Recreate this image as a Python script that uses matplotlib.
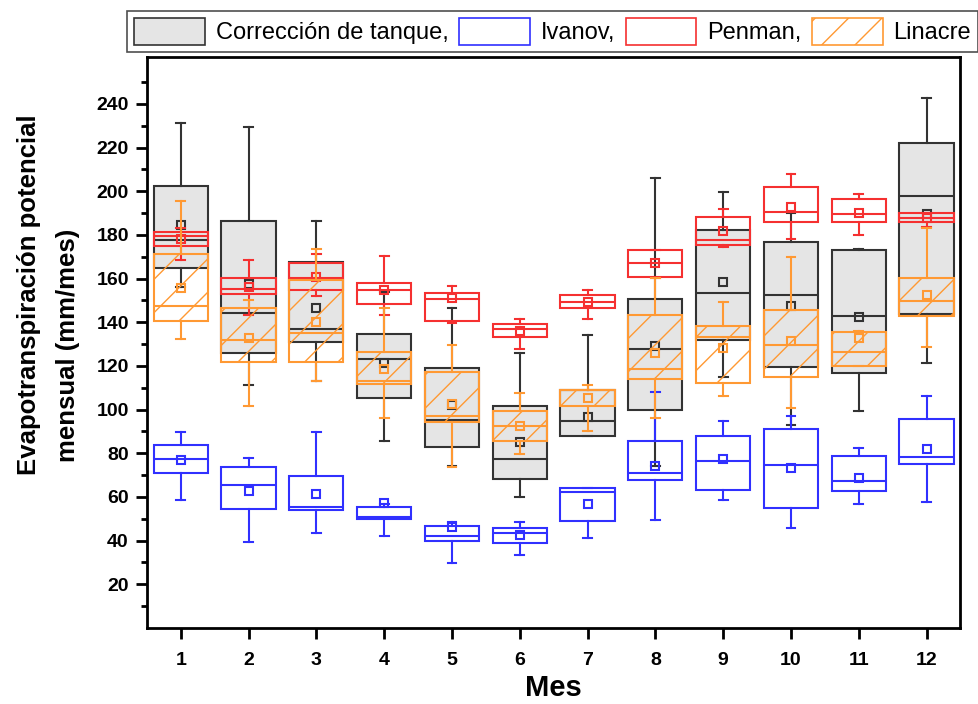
import matplotlib
matplotlib.use("Agg")
import matplotlib.pyplot as plt
from matplotlib.patches import Patch
from matplotlib.ticker import FixedLocator

# Monthly potential evapotranspiration (mm/mes), box summaries per method
meses = [1, 2, 3, 4, 5, 6, 7, 8, 9, 10, 11, 12]

# Corrección de tanque
tanque_lo   = [156.0, 111.5, 112.9, 85.5, 74.0, 60.2, 87.8, 74.3, 114.9, 93.0, 99.4, 121.3]
tanque_q1   = [164.7, 125.9, 131.0, 105.2, 83.0, 68.2, 87.8, 100.0, 131.7, 119.5, 116.7, 143.7]
tanque_med  = [177.7, 144.4, 136.8, 123.0, 95.4, 77.4, 94.7, 127.6, 153.6, 152.4, 142.8, 198.0]
tanque_q3   = [202.6, 186.4, 167.4, 134.5, 119.0, 101.6, 108.8, 150.7, 182.3, 176.8, 173.1, 222.1]
tanque_hi   = [231.3, 229.6, 186.4, 153.9, 146.7, 125.9, 134.0, 206.0, 199.6, 189.9, 173.5, 242.8]
tanque_mean = [184.6, 157.5, 146.6, 121.5, 102.2, 85.0, 96.4, 129.1, 158.5, 147.5, 142.5, 189.6]

# Ivanov
ivanov_lo   = [58.5, 39.5, 43.7, 42.1, 29.6, 33.4, 41.1, 49.3, 58.5, 45.8, 56.7, 57.5]
ivanov_q1   = [70.9, 54.4, 54.0, 49.8, 39.8, 38.8, 49.0, 67.7, 63.2, 54.9, 62.8, 75.2]
ivanov_med  = [77.4, 65.6, 55.2, 51.0, 42.1, 43.7, 62.3, 70.8, 76.3, 74.8, 67.1, 78.1]
ivanov_q3   = [83.8, 73.5, 69.4, 55.5, 46.7, 46.0, 64.3, 85.5, 87.8, 91.3, 78.6, 95.9]
ivanov_hi   = [89.6, 77.7, 89.6, 57.0, 48.6, 48.6, 64.3, 108.0, 94.8, 97.0, 82.3, 106.2]
ivanov_mean = [76.9, 62.8, 61.3, 57.2, 46.4, 42.5, 56.7, 74.3, 77.4, 73.1, 68.6, 82.0]

# Penman
penman_lo   = [168.5, 143.2, 151.9, 143.2, 139.7, 127.6, 141.4, 160.5, 174.6, 178.1, 180.1, 183.5]
penman_q1   = [174.8, 152.9, 154.7, 148.3, 140.8, 133.3, 146.6, 160.8, 175.4, 185.8, 185.9, 185.8]
penman_med  = [179.5, 155.2, 160.4, 154.7, 150.9, 137.0, 149.3, 167.0, 177.7, 190.7, 189.6, 187.6]
penman_q3   = [181.5, 160.5, 167.0, 158.1, 153.6, 139.2, 152.4, 173.1, 188.1, 201.9, 196.4, 189.9]
penman_hi   = [183.0, 168.6, 171.5, 170.2, 156.4, 141.5, 154.7, 173.1, 191.8, 208.1, 198.7, 189.9]
penman_mean = [178.3, 156.2, 160.7, 154.7, 151.2, 135.8, 149.3, 167.0, 181.8, 193.0, 190.2, 187.9]

# Linacre
linacre_lo   = [132.2, 101.6, 112.9, 96.0, 73.8, 79.7, 90.4, 96.0, 106.2, 100.8, 120.0, 128.7]
linacre_q1   = [140.8, 121.8, 121.8, 111.7, 94.2, 85.5, 101.6, 114.2, 112.1, 114.9, 120.1, 142.8]
linacre_med  = [147.4, 131.7, 135.3, 113.3, 97.0, 92.7, 108.8, 118.4, 133.3, 129.4, 126.4, 149.8]
linacre_q3   = [171.5, 146.7, 159.3, 126.4, 117.2, 99.6, 109.2, 143.2, 138.2, 145.5, 135.7, 160.5]
linacre_hi   = [195.6, 150.0, 173.5, 146.7, 129.4, 107.5, 111.1, 160.1, 149.3, 169.7, 136.0, 183.0]
linacre_mean = [155.8, 132.8, 140.2, 118.7, 102.6, 92.7, 105.3, 125.9, 128.4, 131.4, 132.8, 152.7]

gris_borde = "#333333"
gris_relleno = "#e5e5e5"
azul = "#3030ff"
rojo = "#f53030"
naranja = "#ff9933"

plt.rcParams["font.family"] = ["Liberation Sans", "DejaVu Sans"]
plt.rcParams["hatch.linewidth"] = 1.0


def resumen(lo, q1, med, q3, hi, mean):
    return [dict(whislo=a, q1=b, med=c, q3=d, whishi=e, mean=f, fliers=[])
            for a, b, c, d, e, f in zip(lo, q1, med, q3, hi, mean)]


def dibujar(ax, stats, color, fill, hatch, z):
    lw = 1.5
    ax.bxp(stats, positions=meses, widths=0.8, capwidths=0.13,
           patch_artist=True, showmeans=True, showfliers=False,
           boxprops=dict(facecolor=fill, edgecolor=color, linewidth=lw, hatch=hatch),
           medianprops=dict(color=color, linewidth=lw),
           whiskerprops=dict(color=color, linewidth=lw),
           capprops=dict(color=color, linewidth=lw),
           meanprops=dict(marker="s", markerfacecolor="none", markeredgecolor=color,
                          markersize=5.5, markeredgewidth=1.5),
           zorder=z, manage_ticks=False)


fig = plt.figure(figsize=(9.79, 7.04), dpi=100)
ax = fig.add_axes([0.150, 0.108, 0.831, 0.811])

dibujar(ax, resumen(tanque_lo, tanque_q1, tanque_med, tanque_q3, tanque_hi, tanque_mean),
        gris_borde, gris_relleno, None, 2)
dibujar(ax, resumen(ivanov_lo, ivanov_q1, ivanov_med, ivanov_q3, ivanov_hi, ivanov_mean),
        azul, "none", None, 3)
dibujar(ax, resumen(penman_lo, penman_q1, penman_med, penman_q3, penman_hi, penman_mean),
        rojo, "none", None, 4)
dibujar(ax, resumen(linacre_lo, linacre_q1, linacre_med, linacre_q3, linacre_hi, linacre_mean),
        naranja, "none", "/", 5)

ax.set_xlim(0.5, 12.5)
ax.set_ylim(0, 261.5)
ax.set_xticks(meses)
ax.set_xticklabels([str(m) for m in meses])
ax.yaxis.set_major_locator(FixedLocator(list(range(20, 241, 20))))
ax.yaxis.set_minor_locator(FixedLocator(list(range(10, 251, 20))))

for sp in ax.spines.values():
    sp.set_linewidth(2.0)
ax.tick_params(axis="both", which="major", direction="out", length=8, width=2,
               labelsize=14, pad=5)
ax.tick_params(axis="y", which="minor", direction="out", length=4, width=2)
ax.tick_params(axis="x", pad=9)
for lab in ax.get_xticklabels() + ax.get_yticklabels():
    lab.set_fontweight("bold")

ax.set_xlabel("Mes", fontsize=21, fontweight="bold", labelpad=4)

# two-line y title, each line placed on its own
fig.text(29 / 979, 1 - 295 / 704, "Evapotranspiración potencial", rotation=90,
         ha="center", va="center", fontsize=18.5, fontweight="bold")
fig.text(68 / 979, 1 - 345 / 704, "mensual (mm/mes)", rotation=90,
         ha="center", va="center", fontsize=18.5, fontweight="bold")

handles = [
    Patch(facecolor=gris_relleno, edgecolor=gris_borde, linewidth=1.2),
    Patch(facecolor="white", edgecolor=azul, linewidth=1.2),
    Patch(facecolor="white", edgecolor=rojo, linewidth=1.2),
    Patch(facecolor="white", edgecolor=naranja, linewidth=1.2, hatch="/"),
]
etiquetas = ["Corrección de tanque,", "Ivanov,", "Penman,", "Linacre"]
leg = fig.legend(handles, etiquetas, loc="upper right", bbox_to_anchor=(0.999, 0.985),
                 ncol=4, fontsize=17, frameon=True, fancybox=False,
                 handlelength=3.0, handleheight=1.4, handletextpad=0.45,
                 columnspacing=0.45, borderpad=0.3, borderaxespad=0)
leg.get_frame().set_edgecolor("#222222")
leg.get_frame().set_linewidth(1.2)

fig.savefig("out.png", dpi=100)
